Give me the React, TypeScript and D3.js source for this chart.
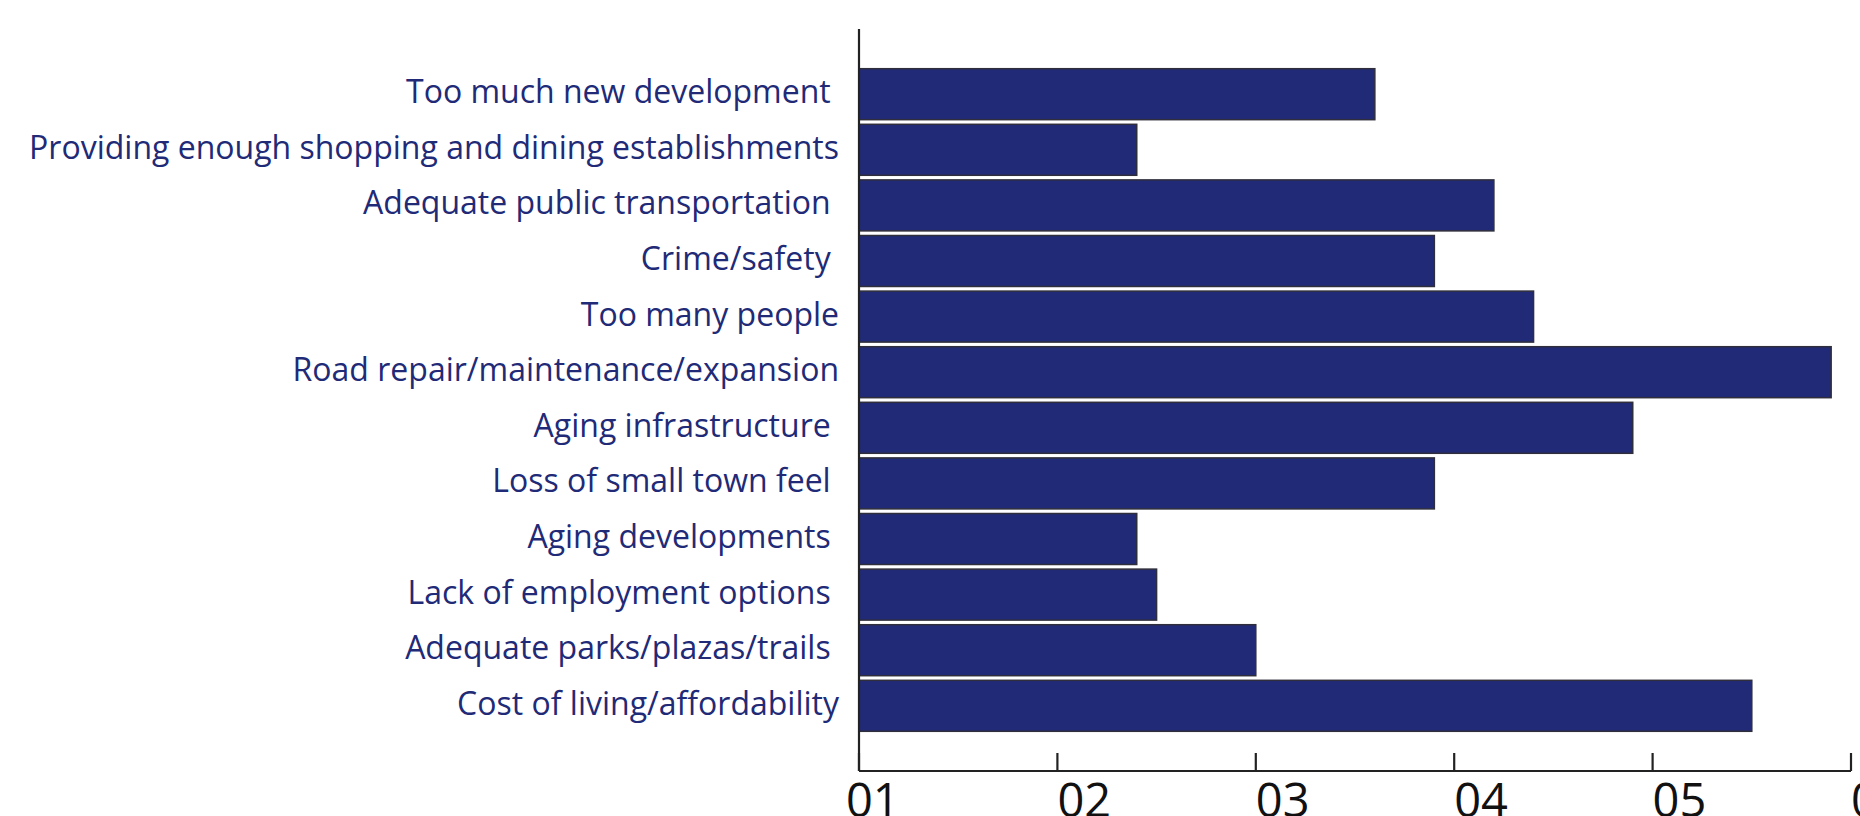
import React from "react";
import * as d3 from "d3";

const categories: string[] = [
  "Too much new development ",
  "Providing enough shopping and dining establishments",
  "Adequate public transportation ",
  "Crime/safety ",
  "Too many people",
  "Road repair/maintenance/expansion",
  "Aging infrastructure ",
  "Loss of small town feel ",
  "Aging developments ",
  "Lack of employment options ",
  "Adequate parks/plazas/trails ",
  "Cost of living/affordability",
];

const values: number[] = [3.6, 2.4, 4.2, 3.9, 4.4, 5.9, 4.9, 3.9, 2.4, 2.5, 3.0, 5.5];

const tickValues: number[] = [1, 2, 3, 4, 5, 6];
const tickLabels: string[] = ["01", "02", "03", "04", "05", "06"];

const W = 1860;
const H = 816;
const left = 859;
const right = 1851;
const top = 29;
const bottom = 771;
const NAVY = "#212a77";

export default function App() {
  const x = d3.scaleLinear().domain([1, 6]).range([left, right]);
  const y = d3
    .scaleBand<string>()
    .domain(categories)
    .range([top, bottom])
    .paddingInner(0.083)
    .paddingOuter(0.714);

  return (
    <svg
      width={W}
      height={H}
      style={{ position: "absolute", left: 0, top: 0, overflow: "hidden", background: "#fff" }}
    >
      {categories.map((c, i) => (
        <rect
          key={c}
          x={x(1)}
          y={y(c)!}
          width={x(values[i]) - x(1)}
          height={y.bandwidth()}
          fill={NAVY}
          stroke="#2e2e3c"
          strokeWidth={1.5}
        />
      ))}
      {categories.map((c) => (
        <text
          key={"l" + c}
          x={left - 20}
          y={y(c)! + y.bandwidth() / 2 + 9}
          textAnchor="end"
          fontFamily="'Open Sans'"
          fontSize={32}
          fill={NAVY}
          style={{ whiteSpace: "pre" }}
        >
          {c}
        </text>
      ))}
      {/* y axis line */}
      <line x1={left} x2={left} y1={top} y2={bottom} stroke="#222" strokeWidth={2.2} />
      {/* x axis line */}
      <line x1={left} x2={right} y1={bottom} y2={bottom} stroke="#222" strokeWidth={2.2} />
      {tickValues.map((t) => (
        <line
          key={"t" + t}
          x1={x(t)}
          x2={x(t)}
          y1={bottom}
          y2={bottom - 18}
          stroke="#222"
          strokeWidth={2.2}
        />
      ))}
      {tickValues.map((t, i) => (
        <text
          key={"tl" + t}
          x={x(t) + (i === 0 ? -13 : 0)}
          y={817}
          textAnchor="start"
          fontFamily="'Open Sans'"
          fontSize={47}
          fill="#111"
        >
          {tickLabels[i]}
        </text>
      ))}
    </svg>
  );
}
